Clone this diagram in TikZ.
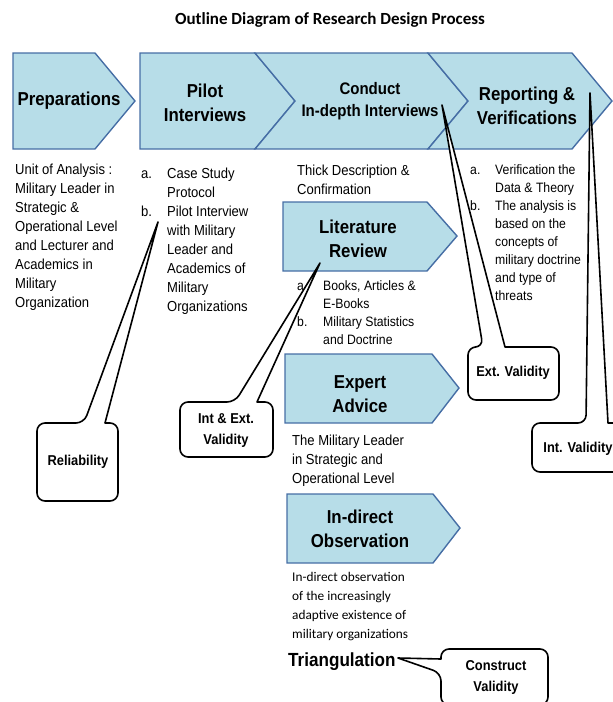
\documentclass[tikz,border=0pt]{standalone}
\usepackage{fontspec}
\setmainfont[FakeStretch=0.9]{Liberation Sans}
\newfontfamily\calfont{Carlito}
\definecolor{chevfill}{RGB}{183,221,232}
\definecolor{chevline}{RGB}{70,110,165}
\newcommand\fsz[2]{\fontsize{#1}{#2}\selectfont}
\tikzset{
  chev/.style={fill=chevfill,draw=chevline,line width=1.4pt,line join=miter},
  chevtext/.style={font={\fsz{18.7}{24}\bfseries},align=center,inner sep=0pt},
  plain/.style={anchor=north west,inner sep=0pt},
  callbox/.style={draw=black,fill=white,line width=1.6pt,line join=round},
  calltext/.style={font={\fsz{14.3}{21}\bfseries},align=center,inner sep=0pt},
}

\begin{document}
\begin{tikzpicture}[x=1pt,y=-1pt]
    \clip (0,0) rectangle (613,702);
    \node[font={\calfont\fsz{17}{20}\bfseries}] (title) at (330,20) {Outline Diagram of Research Design Process};
    % --- top row of chevrons
    \draw[chev] (13,53) -- (95,53) -- (135,101) -- (95,149) -- (13,149) -- cycle;
    \draw[chev] (140,53) -- (255,53) -- (295,101) -- (255,149) -- (140,149) -- cycle;
    \draw[chev] (255,53) -- (428,53) -- (468,101) -- (428,149) -- (255,149) -- (295,101) -- cycle;
    \draw[chev] (428,53) -- (572,53) -- (612,101) -- (572,149) -- (428,149) -- (468,101) -- cycle;
    \node[chevtext] (prep) at (69,101) {Preparations};
    \node[chevtext] (pilot) at (205,103) {Pilot\\Interviews};
    \node[chevtext,font={\fsz{16.7}{22}\bfseries}] (conduct) at (370,101) {Conduct\\In-depth Interviews};
    \node[chevtext] (report) at (527,106) {Reporting \&\\Verifications};
    % --- lower chevrons
    \draw[chev] (283,202) -- (427,202) -- (457,236) -- (427,271) -- (283,271) -- cycle;
    \draw[chev] (285,354) -- (432,354) -- (459,388) -- (432,423) -- (285,423) -- cycle;
    \draw[chev] (287,494) -- (433,494) -- (460,528) -- (433,563) -- (287,563) -- cycle;
    \node[chevtext] (lit) at (358,239) {Literature\\Review};
    \node[chevtext] (expert) at (360,394) {Expert\\Advice};
    \node[chevtext] (obs) at (360,529) {In-direct\\Observation};
    % --- texts under the chevrons
    \node[plain,font={\fsz{14.5}{19}}] (unit) at (15,161) {\begin{tabular}{@{}l@{}}Unit of Analysis :\\Military Leader in\\Strategic \&\\Operational Level\\and Lecturer and\\Academics in\\Military\\Organization\end{tabular}};
    \node[plain,font={\fsz{14.5}{19}}] (pilotlist) at (141,165) {\begin{tabular}{@{}p{26pt}@{}l@{}}a. & Case Study\\ & Protocol\\b. & Pilot Interview\\ & with Military\\ & Leader and\\ & Academics of\\ & Military\\ & Organizations\end{tabular}};
    \node[plain,font={\fsz{14.5}{19}}] (thick) at (297,162) {\begin{tabular}{@{}l@{}}Thick Description \&\\Confirmation\end{tabular}};
    \node[plain,font={\fsz{13.6}{18}}] (replist) at (470,162) {\begin{tabular}{@{}p{25pt}@{}l@{}}a. & Verification the\\ & Data \& Theory\\b. & The analysis is\\ & based on the\\ & concepts of\\ & military doctrine\\ & and type of\\ & threats\end{tabular}};
    \node[plain,font={\fsz{13.6}{18}}] (litlist) at (297,278) {\begin{tabular}{@{}p{26pt}@{}l@{}}a. & Books, Articles \&\\ & E-Books\\b. & Military Statistics\\ & and Doctrine\end{tabular}};
    \node[plain,font={\fsz{14.5}{19}}] (leader) at (292,432) {\begin{tabular}{@{}l@{}}The Military Leader\\in Strategic and\\Operational Level\end{tabular}};
    \node[plain,font={\calfont\fsz{13.3}{19}}] (obstext) at (292,568) {\begin{tabular}{@{}l@{}}In-direct observation\\of the increasingly\\adaptive existence of\\military organizations\end{tabular}};
    \node[anchor=base west,inner sep=0pt,font={\fsz{19}{22}\bfseries}] (tri) at (288,666) {Triangulation};
    % --- validity callouts
    \coordinate (relTip) at (158,222);
    \coordinate (ieTip) at (320,263);
    \coordinate (extTip) at (442,105);
    \coordinate (intTip) at (590,93);
    \coordinate (conTip) at (398,658);
    \draw[callbox,rounded corners=8pt] (77,501) -- (37,501) -- (37,423) -- (84,423) [sharp corners] -- (relTip) -- (105,423) [rounded corners=8pt] -- (118,423) -- (118,501) -- cycle;
    \draw[callbox,rounded corners=8pt] (226,457) -- (180,457) -- (180,402) -- (235,402) [sharp corners] -- (ieTip) -- (257,402) [rounded corners=8pt] -- (273,402) -- (273,457) -- cycle;
    \draw[callbox,rounded corners=8pt] (513,400) -- (468,400) -- (468,347) -- (483,347) [sharp corners] -- (extTip) -- (505,347) [rounded corners=8pt] -- (559,347) -- (559,400) -- cycle;
    \draw[callbox,rounded corners=8pt] (578,472) -- (532,472) -- (532,423) -- (586,423) [sharp corners] -- (intTip) -- (608,423) [rounded corners=8pt] -- (624,423) -- (624,472) -- cycle;
    \draw[callbox,rounded corners=8pt] (496,705) -- (441,705) -- (441,673) [sharp corners] -- (conTip) -- (441,659) [rounded corners=8pt] -- (441,649) -- (548,649) -- (548,705) -- cycle;
    \node[calltext] (rel) at (78,462) {Reliability};
    \node[calltext] (ie) at (226,431) {Int \& Ext.\\Validity};
    \node[calltext] (ext) at (513,373) {Ext. Validity};
    \node[calltext] (int) at (578,449) {Int. Validity};
    \node[calltext] (con) at (496,677) {Construct\\Validity};
\end{tikzpicture}
\end{document}
